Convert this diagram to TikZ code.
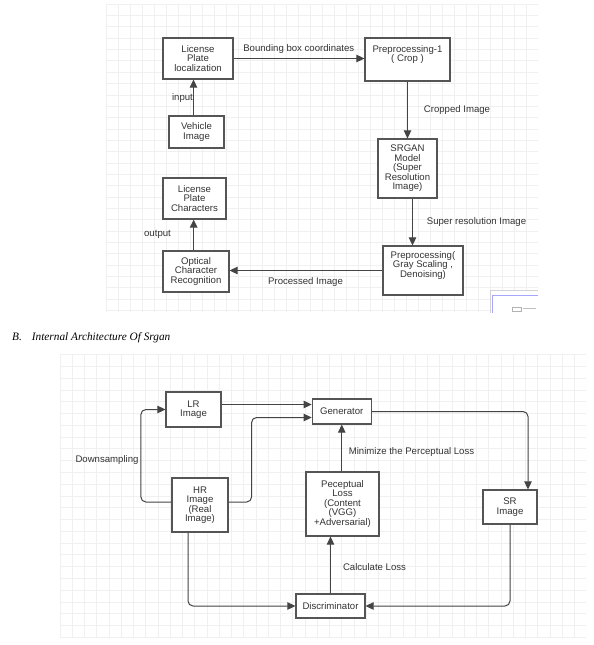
\documentclass[tikz,border=0pt]{standalone}
\usepackage{fontspec}
\setmainfont{Liberation Sans}
\newfontfamily\capfont{Liberation Serif}
\usetikzlibrary{arrows.meta,calc}
\definecolor{boxc}{HTML}{555555}
\definecolor{txtc}{HTML}{333333}
\definecolor{linec}{HTML}{444444}
\definecolor{gridc}{HTML}{F0F0F0}
\tikzset{
  fbox/.style={draw=boxc, line width=1.2pt, fill=white, text=txtc, align=center,
    inner sep=0pt, font=\fontsize{9.6}{9.5}\selectfont},
  lbl/.style={text=txtc, inner sep=0pt, anchor=mid, font=\fontsize{9.6}{9.5}\selectfont},
  arr/.style={draw=linec, line width=1pt, -{Triangle[length=8pt,width=7.5pt]}},
  gline/.style={draw=gridc, line width=0.6pt}
}
\begin{document}
\begin{tikzpicture}[x=1pt,y=-1pt]
\useasboundingbox (0,0) rectangle (594,645);
\fill[white] (0,0) rectangle (594,645);
% grid 1
\foreach \i in {0,...,35} { \draw[gline] ({106.5+12*\i},4) -- ({106.5+12*\i},312); }
\foreach \j in {0,...,27} { \draw[gline] (106.5,{4+11.35*\j}) -- (538,{4+11.35*\j}); }
% grid 2
\foreach \i in {0,...,42} { \draw[gline] ({60+12.25*\i},354.5) -- ({60+12.25*\i},637); }
\foreach \j in {0,...,24} { \draw[gline] (60,{354.5+11.78*\j}) -- (586,{354.5+11.78*\j}); }
% small window fragment
\fill[white] (490,290) rectangle (538,313);
\draw[gray!35] (490,313) -- (490,290) -- (538,290);
\draw[blue!35, line width=0.8pt] (492.5,313) -- (492.5,295) -- (538,295);
\draw[gray!60, line width=0.5pt] (512,307) rectangle (521,311);
\draw[gray!50, line width=0.5pt] (523,308.5) -- (536,308.5);

% ---- diagram 1 ----
\node[fbox, minimum width=70pt, minimum height=41pt] (lpl) at (198,58.5) {License\\Plate\\localization};
\node[fbox, minimum width=85pt, minimum height=43pt] (pre1) at (407.5,59.5) {Preprocessing-1\\( Crop )\\\strut};
\node[fbox, minimum width=55pt, minimum height=32pt] (veh) at (196.5,132) {Vehicle\\Image};
\node[fbox, minimum width=59pt, minimum height=59pt] (srgan) at (407.5,168.5) {SRGAN\\Model\\(Super\\Resolution\\Image)};
\node[fbox, minimum width=63pt, minimum height=41pt] (lpc) at (194.5,198.5) {License\\Plate\\Characters};
\node[fbox, minimum width=66pt, minimum height=41pt] (ocr) at (196,271.5) {Optical\\Character\\Recognition};
\node[fbox, minimum width=80pt, minimum height=49pt] (pre2) at (423,270.5) {Preprocessing(\\Gray Scaling ,\\Denoising)\\\strut};

\draw[arr] (lpl.east) -- (lpl.east -| pre1.west);
\draw[arr] ([xshift=-3pt]veh.north) -- ([xshift=-3pt]veh.north |- lpl.south);
\draw[arr] (pre1.south) -- (srgan.north);
\draw[arr] ([xshift=5pt]srgan.south) -- ([xshift=5pt]srgan.south |- pre2.north);
\draw[arr] (pre2.west) -- (pre2.west -| ocr.east);
\draw[arr] ([xshift=-2.3pt]ocr.north) -- ([xshift=-2.3pt]ocr.north |- lpc.south);

\node[lbl] (l1) at (298.8,49) {Bounding box coordinates};
\node[lbl] (l2) at (182.5,97.5) {input};
\node[lbl] (l3) at (457,110) {Cropped Image};
\node[lbl] (l4) at (476.5,222) {Super resolution Image};
\node[lbl] (l5) at (157.5,234) {output};
\node[lbl] (l6) at (305.5,282) {Processed Image};

% caption
\node[anchor=base west, inner sep=0pt, text=black, font=\capfont\itshape\fontsize{11.3}{12}\selectfont] (cap) at (12,340.5) {B.\hspace{10pt}Internal Architecture Of Srgan};

% ---- diagram 2 ----
\node[fbox, minimum width=55pt, minimum height=35pt] (lr) at (193.5,409.5) {LR\\Image};
\node[fbox, minimum width=59pt, minimum height=25pt] (gen) at (341.75,411.5) {Generator};
\node[fbox, minimum width=56pt, minimum height=54pt] (hr) at (200,505) {HR\\Image\\(Real\\Image)};
\node[fbox, minimum width=73pt, minimum height=64pt] (pl) at (342.5,504) {Peceptual\\Loss\\(Content\\(VGG)\\+Adversarial)};
\node[fbox, minimum width=54pt, minimum height=34pt] (sr) at (510,507) {SR\\Image};
\node[fbox, minimum width=69pt, minimum height=24pt] (disc) at (330.5,606) {Discriminator};

\draw[arr] ([yshift=5pt]lr.east) -- ([yshift=5pt]lr.east -| gen.west);
\draw[arr, rounded corners=5pt] ([yshift=3pt]hr.east) -- ++(23,0) |- ([yshift=-6pt]gen.west);
\draw[arr, rounded corners=5pt] ([yshift=3pt]hr.west) -- ++(-30.5,0) |- (lr.west);
\draw[arr] (gen.south |- pl.north) -- (gen.south);
\draw[arr, rounded corners=5pt] (gen.east) -| ([xshift=18pt]sr.north);
\draw[arr, rounded corners=5pt] (sr.south) |- (disc.east);
\draw[arr, rounded corners=5pt] ([xshift=-12pt]hr.south) |- (disc.west);
\draw[arr] (disc.north) -- (disc.north |- pl.south);

\node[lbl] (l7) at (107,459.5) {Downsampling};
\node[lbl] (l8) at (411.5,451.5) {Minimize the Perceptual Loss};
\node[lbl] (l9) at (374.5,567.5) {Calculate Loss};
\end{tikzpicture}
\end{document}
